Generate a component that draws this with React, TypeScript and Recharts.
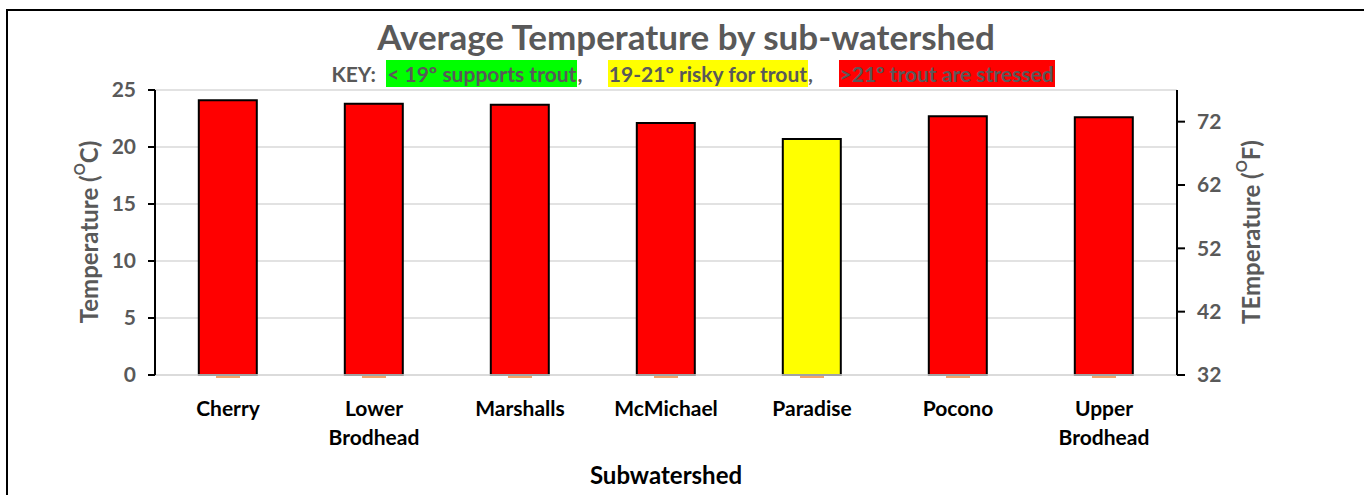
import React from 'react';
import { ComposedChart, Bar, Cell, Scatter, XAxis, YAxis, CartesianGrid } from 'recharts';

const subwatersheds = ['Cherry', 'Lower Brodhead', 'Marshalls', 'McMichael', 'Paradise', 'Pocono', 'Upper Brodhead'];
const avgTempC = [24.1, 23.8, 23.7, 22.1, 20.7, 22.7, 22.6];
const secondSeriesF = [32, 32, 32, 32, 32, 32, 32];
const ticksC = [0, 5, 10, 15, 20, 25];
const ticksF = [32, 42, 52, 62, 72];

const FONT = 'Lato, "Open Sans", sans-serif';
const GRAY = '#595959';

const data = subwatersheds.map((name, i) => ({ name, temp: avgTempC[i], f: secondSeriesF[i] }));

const colorFor = (v: number) => (v > 21 ? '#ff0000' : v >= 19 ? '#ffff00' : '#00ff00');

const XTick = ({ x, y, payload }: any) => {
  const words = String(payload.value).split(' ');
  return (
    <g>
      {words.map((w, i) => (
        <text key={i} x={x} y={y + 33 + i * 29} textAnchor="middle" fill="#000" fontSize={21} fontWeight={700} fontFamily={FONT}>
          {w}
        </text>
      ))}
    </g>
  );
};

const AxisTitle = ({ x, y, main, unit }: { x: number; y: number; main: string; unit: string }) => (
  <text x={x} y={y} transform={`rotate(-90 ${x} ${y})`} textAnchor="middle" dominantBaseline="central" fill={GRAY} fontSize={24} fontWeight={700} fontFamily={FONT}>
    {main} (
    <tspan baselineShift="super" fontSize={15}>O</tspan>
    <tspan>{unit})</tspan>
  </text>
);

const ZeroMark = ({ cx, cy }: any) => (
  <line x1={cx - 12} x2={cx + 12} y1={cy + 2} y2={cy + 2} stroke="#f4a46a" strokeWidth={2} />
);

const keyItem = (bg: string, text: string) => (
  <span style={{ background: bg, padding: '1px 1px', color: GRAY }}>{text}</span>
);

export default function App() {
  return (
    <div style={{ position: 'absolute', left: 0, top: 0, width: 1364, height: 495, background: '#fff', overflow: 'hidden' }}>
      <div style={{ position: 'absolute', left: 6, top: 9, right: -4, bottom: -4, borderTop: '2px solid #000', borderLeft: '2px solid #000' }} />
      <div style={{ position: 'absolute', left: 0, width: 1372, top: 15, textAlign: 'center', fontFamily: FONT, fontWeight: 700, fontSize: 35, color: GRAY }}>
        Average Temperature by sub-watershed
      </div>
      <div style={{ position: 'absolute', left: 0, width: 1386, top: 61, textAlign: 'center', fontFamily: FONT, fontWeight: 700, fontSize: 21, color: GRAY, whiteSpace: 'pre' }}>
        {'KEY:  '}
        {keyItem('#00ff00', '< 19º supports trout')}
        {',     '}
        {keyItem('#ffff00', '19-21º risky for trout')}
        {',     '}
        {keyItem('#ff0000', '>21º trout are stressed')}
      </div>
      <ComposedChart
        width={1364}
        height={495}
        data={data}
        margin={{ top: 90, right: 127, left: 95, bottom: 60 }}
        barCategoryGap="30%"
        style={{ position: 'absolute', left: 0, top: 0 }}
      >
        <CartesianGrid vertical={false} stroke="#d9d9d9" strokeWidth={1.5} yAxisId="c" />
        <XAxis
          dataKey="name"
          height={60}
          tick={<XTick />}
          tickLine={false}
          axisLine={{ stroke: '#d9d9d9', strokeWidth: 1.5 }}
          interval={0}
          label={({ viewBox }: any) => (
            <text x={viewBox.x + viewBox.width / 2} y={484} textAnchor="middle" fill="#000" fontSize={24} fontWeight={700} fontFamily={FONT}>
              Subwatershed
            </text>
          )}
        />
        <YAxis
          yAxisId="c"
          domain={[0, 25]}
          ticks={ticksC}
          width={60}
          tickSize={7}
          tickMargin={12}
          axisLine={{ stroke: '#000', strokeWidth: 2 }}
          tickLine={{ stroke: '#000', strokeWidth: 2 }}
          tick={{ fill: GRAY, fontSize: 21, fontWeight: 700, fontFamily: FONT }}
          label={({ viewBox }: any) => <AxisTitle x={viewBox.x - 7} y={232} main="Temperature" unit="C" />}
        />
        <YAxis
          yAxisId="f"
          orientation="right"
          domain={[32, 77]}
          ticks={ticksF}
          width={60}
          tickSize={8}
          tickMargin={12}
          axisLine={{ stroke: '#000', strokeWidth: 2 }}
          tickLine={{ stroke: '#000', strokeWidth: 2 }}
          tick={{ fill: GRAY, fontSize: 21, fontWeight: 700, fontFamily: FONT, textAnchor: 'start' }}
          label={({ viewBox }: any) => <AxisTitle x={viewBox.x + 73} y={232} main="TEmperature" unit="F" />}
        />
        <Bar dataKey="temp" yAxisId="c" stroke="#000" strokeWidth={2} isAnimationActive={false}>
          {data.map((d, i) => (
            <Cell key={i} fill={colorFor(d.temp)} />
          ))}
        </Bar>
        <Scatter dataKey="f" yAxisId="f" shape={<ZeroMark />} isAnimationActive={false} />
      </ComposedChart>
    </div>
  );
}
